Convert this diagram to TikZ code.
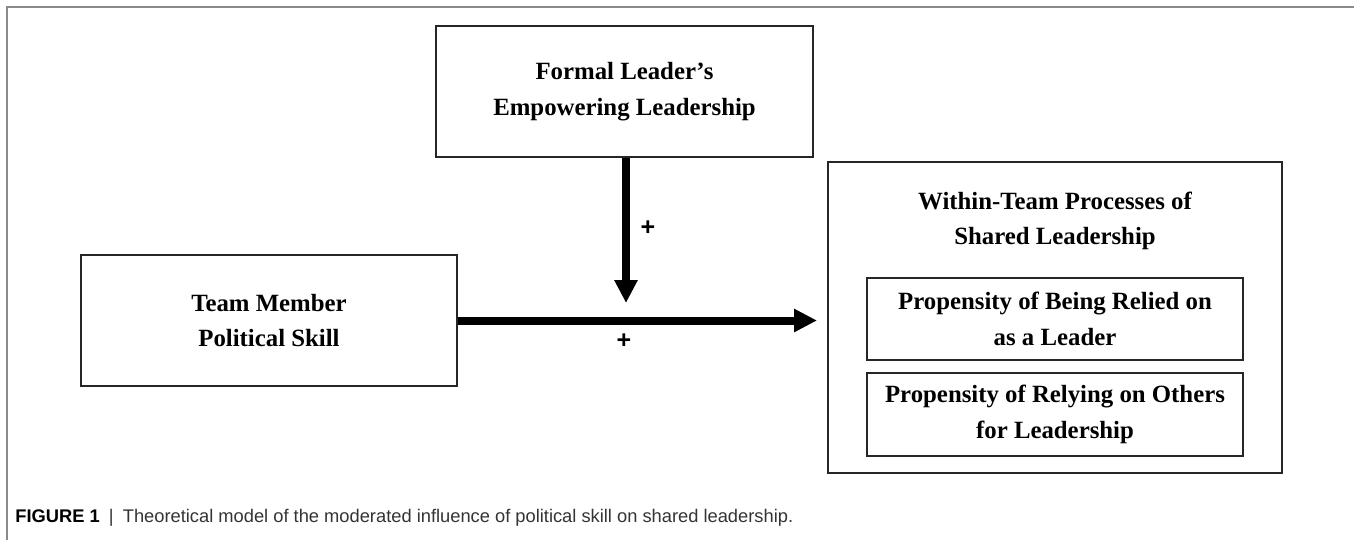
\documentclass[tikz,border=0pt]{standalone}
\usepackage{fontspec}
\setmainfont{Liberation Serif}
\setsansfont{Liberation Sans}
\usetikzlibrary{arrows.meta}
\definecolor{framegray}{HTML}{8A8A8A}
\definecolor{captext}{HTML}{333333}
\tikzset{
  box/.style={draw=black!85, line width=1pt, align=center, inner sep=0pt,
    font=\fontsize{12.4}{17.8}\selectfont\bfseries},
  flow/.style={line width=4pt, -{Triangle[length=11.5pt,width=11pt]}},
  plus/.style={font=\sffamily\bfseries\fontsize{12.5}{14}\selectfont, inner sep=0pt}
}
\begin{document}
\begin{tikzpicture}[x=0.5pt,y=-0.5pt]
\useasboundingbox (0,0) rectangle (1354,540);
% outer frame
\draw[framegray, line width=0.8pt] (7,540) -- (7,7) -- (1354,7);
% nodes
\node[box, minimum width=188.5pt, minimum height=65.5pt] (top) at (624.5,91.5)
  {Formal Leader's\\Empowering Leadership};
\node[box, minimum width=188pt, minimum height=65.5pt] (left) at (269,320.5)
  {Team Member\\Political Skill};
\node[box, minimum width=227pt, minimum height=155.5pt] (outer) at (1055,317.5) {};
\node[box, draw=none] (title) at (1055,221) {Within-Team Processes of\\Shared Leadership};
\node[box, minimum width=188pt, minimum height=41pt] (in1) at (1055,319)
  {Propensity of Being Relied on\\as a Leader};
\node[box, minimum width=188pt, minimum height=41.5pt] (in2) at (1055,414.5)
  {Propensity of Relying on Others\\for Leadership};
\coordinate (mod) at (626,303);
% connectors
\draw[flow] (top.south -| mod) -- (mod);
\draw[flow, shorten >=5pt] (left.east) -- (left.east -| outer.west);
\node[plus] (p1) at (648,228) {+};
\node[plus] (p2) at (624,341) {+};
% caption
\node[anchor=west, inner sep=0pt, font=\sffamily\fontsize{9.15}{11}\selectfont, text=captext] (cap) at (15,518)
  {\textcolor{black}{\bfseries FIGURE 1}\enspace|\enspace Theoretical model of the moderated influence of political skill on shared leadership.};
\end{tikzpicture}
\end{document}
